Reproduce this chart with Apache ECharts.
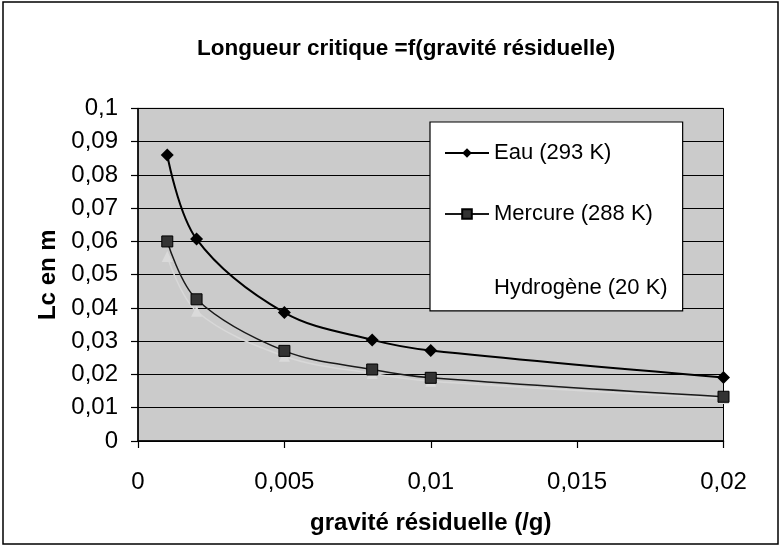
<!DOCTYPE html>
<html>
<head>
<meta charset="utf-8">
<script src="https://cdn.jsdelivr.net/npm/echarts@6/dist/echarts.min.js"></script>
<style>
  html, body { margin: 0; padding: 0; background: #ffffff; }
  #chart { width: 781px; height: 547px; }
</style>
</head>
<body>
<div id="chart"></div>
<script>
// Residual gravity (fraction of g) at which the critical length was computed
const gravite = [0.001, 0.002, 0.005, 0.008, 0.01, 0.02];

// Critical length Lc (m) for each fluid
const eau = [0.086, 0.0607, 0.0386, 0.0304, 0.0272, 0.0191];
const mercure = [0.060, 0.0426, 0.0271, 0.0215, 0.019, 0.0133];
const hydrogene = [0.0555, 0.039, 0.0255, 0.0203, 0.018, 0.0128];

const seriesNames = ['Eau (293 K)', 'Mercure (288 K)', 'Hydrogène (20 K)'];

const xTicks = [0, 0.005, 0.01, 0.015, 0.02];
const yTicks = [0, 0.01, 0.02, 0.03, 0.04, 0.05, 0.06, 0.07, 0.08, 0.09, 0.1];

const fmt = v => {
  const s = String(Number(v.toFixed(4)));
  return s.replace('.', ',');
};

const pairs = arr => gravite.map((g, i) => [g, arr[i]]);

const FONT = 'Liberation Sans, Arial, Helvetica, sans-serif';
const PLOT_BG = '#cbcbcb';

const chart = echarts.init(document.getElementById('chart'), null, { renderer: 'canvas' });

chart.setOption({
  backgroundColor: '#ffffff',
  animation: false,
  title: {
    text: 'Longueur critique =f(gravité résiduelle)',
    left: 192,
    top: 32,
    textStyle: { fontFamily: FONT, fontSize: 22.5, fontWeight: 'bold', color: '#000' }
  },
  graphic: [
    {
      type: 'rect',
      shape: { x: 3, y: 2, width: 775, height: 542 },
      style: { fill: 'none', stroke: '#000', lineWidth: 1.5 },
      silent: true
    }
  ],
  legend: {
    orient: 'vertical',
    left: 430,
    top: 122,
    itemGap: 39,
    itemWidth: 44,
    itemHeight: 12,
    padding: [20, 15, 12, 14],
    backgroundColor: '#ffffff',
    borderColor: '#000',
    borderWidth: 1.2,
    textStyle: {
      fontFamily: FONT,
      fontSize: 22,
      color: '#000',
      rich: {
        low: { fontFamily: FONT, fontSize: 22, color: '#000', padding: [38, 0, 0, 0] }
      }
    },
    formatter: name => (name === seriesNames[2] ? '{low|' + name + '}' : name),
    data: [
      seriesNames[0],
      seriesNames[1],
      {
        name: seriesNames[2],
        itemStyle: { opacity: 0 },
        lineStyle: { opacity: 0 }
      }
    ]
  },
  grid: {
    left: 138,
    right: 57.5,
    top: 108.4,
    bottom: 106,
    show: true,
    backgroundColor: PLOT_BG,
    borderColor: '#000',
    borderWidth: 1
  },
  xAxis: {
    type: 'value',
    min: 0,
    max: 0.02,
    interval: 0.005,
    name: 'gravité résiduelle (/g)',
    nameLocation: 'middle',
    nameGap: 70,
    nameTextStyle: { fontFamily: FONT, fontSize: 24, fontWeight: 'bold', color: '#000' },
    axisLine: { show: true, onZero: false, lineStyle: { color: '#000', width: 1.5 } },
    axisTick: { show: true, length: 7, inside: false, lineStyle: { color: '#000', width: 1.2 } },
    axisLabel: { fontFamily: FONT, fontSize: 24, color: '#000', margin: 29, formatter: fmt },
    splitLine: { show: false }
  },
  yAxis: {
    type: 'value',
    min: 0,
    max: 0.1,
    interval: 0.01,
    name: 'Lc en m',
    nameLocation: 'middle',
    nameGap: 76,
    nameRotate: 90,
    nameTextStyle: { fontFamily: FONT, fontSize: 24, fontWeight: 'bold', color: '#000' },
    axisLine: { show: true, lineStyle: { color: '#000', width: 1.5 } },
    axisTick: { show: true, length: 7, inside: false, lineStyle: { color: '#000', width: 1.2 } },
    axisLabel: { fontFamily: FONT, fontSize: 24, color: '#000', margin: 20, formatter: fmt },
    splitLine: { show: true, lineStyle: { color: '#000', width: 1.2 } }
  },
  series: [
    {
      name: seriesNames[0],
      type: 'line',
      smooth: 0.35,
      data: pairs(eau),
      symbol: 'diamond',
      symbolSize: 13,
      lineStyle: { color: '#000', width: 2 },
      itemStyle: { color: '#000' },
      z: 4
    },
    {
      name: seriesNames[1],
      type: 'line',
      smooth: 0.35,
      data: pairs(mercure),
      symbol: 'rect',
      symbolSize: 11,
      lineStyle: { color: '#1a1a1a', width: 1.5 },
      itemStyle: { color: '#333', borderColor: '#000', borderWidth: 1 },
      z: 3
    },
    {
      // light trace, barely distinguishable from the plot background
      name: seriesNames[2],
      type: 'line',
      smooth: 0.35,
      data: pairs(hydrogene),
      symbol: 'triangle',
      symbolSize: 11,
      lineStyle: { color: '#d8d8d8', width: 1.5 },
      itemStyle: { color: '#dadada' },
      z: 2
    }
  ]
});
</script>
</body>
</html>
